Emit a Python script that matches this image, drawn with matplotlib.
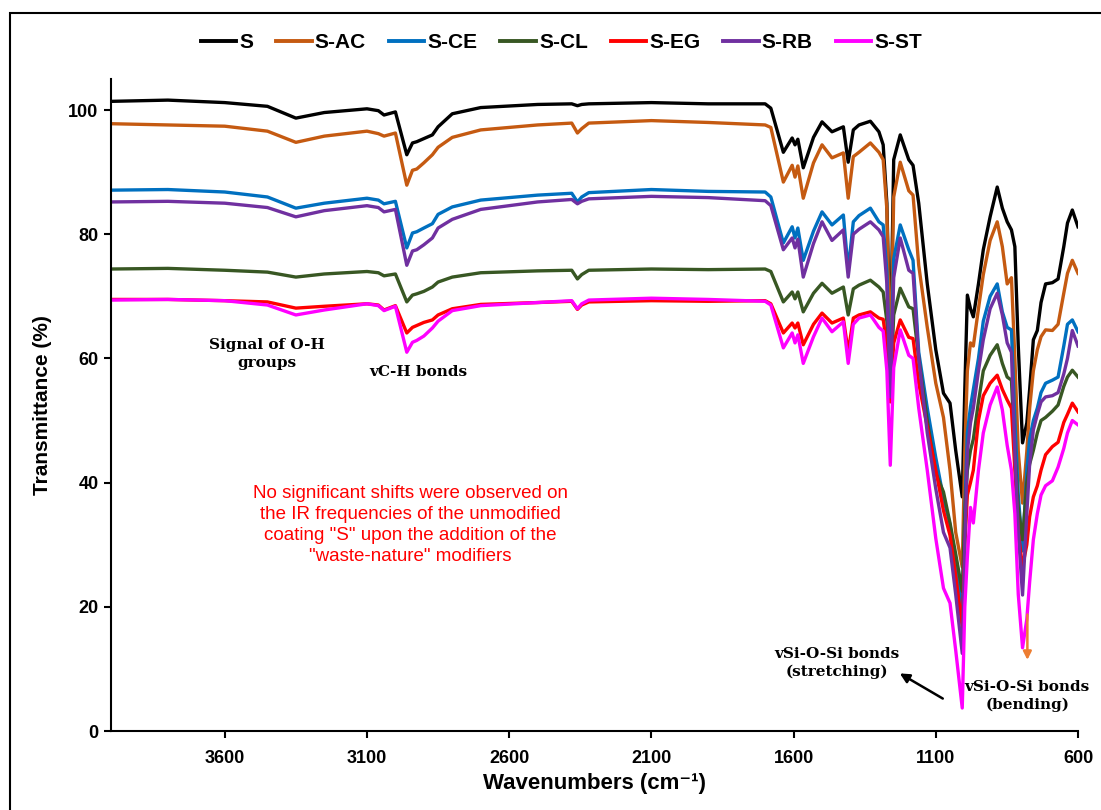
import matplotlib
matplotlib.use("Agg")
import matplotlib.pyplot as plt
from matplotlib import font_manager as fm
from matplotlib.patches import Rectangle

names = {f.name for f in fm.fontManager.ttflist}
NARROW = "Liberation Sans Narrow" if "Liberation Sans Narrow" in names else "Liberation Sans"
SANS = "Liberation Sans"
SERIF = "DejaVu Serif"

wavenumber = [4000, 3800, 3600, 3450, 3350, 3250, 3100, 3060, 3040, 3000,
              2960, 2940, 2925, 2900, 2870, 2850, 2800, 2700, 2500, 2380,
              2360, 2345, 2320, 2100, 1900, 1700, 1680, 1636, 1605, 1595,
              1585, 1566, 1530, 1500, 1465, 1425, 1408, 1390, 1370, 1330,
              1300, 1285, 1272, 1260, 1248, 1225, 1195, 1180, 1160, 1130,
              1100, 1073, 1050, 1030, 1007, 998, 989, 978, 968, 950,
              933, 909, 884, 866, 849, 834, 822, 810, 795, 780,
              770, 757, 743, 730, 714, 690, 670, 650, 637, 620, 600]

t_s = [101.4, 101.6, 101.2, 100.6, 98.7, 99.6, 100.2, 99.9, 99.2, 99.7,
       92.8, 94.7, 94.9, 95.4, 96.0, 97.3, 99.4, 100.4, 100.9, 101.0,
       100.7, 100.9, 101.0, 101.2, 101.0, 101.0, 100.3, 93.2, 95.5, 94.4,
       95.3, 90.7, 95.6, 98.1, 96.5, 97.3, 91.6, 96.8, 97.6, 98.2,
       96.5, 94.4, 85.0, 60.0, 92.0, 96.0, 92.0, 91.1, 85.0, 72.0,
       61.4, 54.4, 52.8, 45.2, 37.7, 55.0, 70.2, 68.0, 66.7, 72.0,
       77.5, 82.8, 87.6, 84.2, 82.0, 80.7, 78.0, 62.0, 46.4, 49.6,
       55.0, 63.0, 64.5, 69.0, 72.0, 72.2, 72.8, 78.0, 81.8, 83.9, 81.2]

t_ac = [97.8, 97.6, 97.4, 96.6, 94.8, 95.8, 96.6, 96.2, 95.8, 96.3,
        87.9, 90.3, 90.5, 91.5, 92.8, 94.0, 95.6, 96.8, 97.6, 97.9,
        96.3, 97.0, 97.9, 98.3, 98.0, 97.6, 97.2, 88.4, 91.1, 89.2,
        91.0, 85.8, 91.5, 94.4, 92.3, 93.1, 85.8, 92.5, 93.2, 94.7,
        93.2, 92.0, 84.0, 57.0, 86.0, 91.6, 87.0, 86.3, 75.0, 65.0,
        56.0, 50.5, 42.0, 32.0, 26.4, 45.0, 58.0, 62.5, 62.0, 68.0,
        73.5, 79.0, 82.0, 78.0, 72.0, 73.0, 60.0, 45.0, 36.7, 45.0,
        52.0, 58.0, 61.4, 63.5, 64.6, 64.5, 65.5, 70.5, 73.7, 75.8, 73.7]

t_ce = [87.1, 87.2, 86.8, 86.0, 84.2, 85.0, 85.8, 85.5, 84.9, 85.3,
        77.8, 80.2, 80.4, 81.0, 81.7, 83.2, 84.4, 85.5, 86.3, 86.6,
        85.2, 86.0, 86.7, 87.2, 86.9, 86.8, 86.0, 78.6, 81.2, 79.4,
        81.0, 75.8, 80.5, 83.6, 81.5, 83.1, 74.2, 82.0, 83.0, 84.2,
        82.0, 81.5, 74.0, 55.0, 76.0, 81.5, 77.5, 75.8, 61.0, 52.0,
        44.0, 37.5, 33.2, 27.0, 19.5, 35.0, 48.0, 52.2, 55.0, 60.0,
        66.0, 70.0, 72.0, 67.5, 65.0, 64.6, 50.0, 38.0, 29.0, 42.0,
        47.0, 50.0, 52.0, 54.5, 56.0, 56.5, 57.0, 62.0, 65.5, 66.2, 64.3]

t_cl = [74.4, 74.5, 74.2, 73.9, 73.1, 73.6, 74.0, 73.8, 73.3, 73.6,
        69.1, 70.2, 70.4, 70.8, 71.5, 72.3, 73.1, 73.8, 74.1, 74.2,
        72.8, 73.5, 74.2, 74.4, 74.3, 74.4, 74.0, 69.1, 70.7, 69.6,
        70.7, 67.5, 70.5, 72.1, 70.5, 71.5, 67.0, 71.2, 71.8, 72.6,
        71.5, 70.7, 66.0, 54.0, 67.0, 71.3, 68.3, 68.0, 60.0, 50.0,
        41.5, 38.5, 33.5, 28.5, 22.5, 35.0, 42.0, 45.2, 47.0, 53.0,
        58.0, 60.5, 62.2, 59.2, 57.0, 56.5, 45.0, 36.0, 30.8, 40.0,
        43.0, 45.2, 48.0, 50.0, 50.5, 51.5, 52.5, 55.5, 57.0, 58.1, 57.0]

t_eg = [69.5, 69.5, 69.3, 69.1, 68.1, 68.4, 68.8, 68.6, 67.8, 68.5,
        64.1, 65.0, 65.3, 65.8, 66.2, 67.0, 68.0, 68.7, 69.0, 69.2,
        67.9, 68.6, 69.1, 69.3, 69.2, 69.3, 68.8, 64.1, 65.7, 64.9,
        65.7, 62.2, 65.5, 67.3, 65.7, 66.5, 61.0, 66.5, 67.0, 67.5,
        66.5, 66.3, 62.0, 53.0, 62.5, 66.2, 63.4, 63.2, 56.0, 49.0,
        42.0, 35.5, 31.5, 25.0, 16.7, 30.0, 38.0, 40.0, 42.0, 50.0,
        54.0, 56.0, 57.3, 55.0, 53.3, 52.0, 42.0, 32.0, 26.4, 30.0,
        34.5, 37.7, 39.5, 42.0, 44.5, 45.8, 46.5, 49.7, 51.0, 52.8, 51.4]

t_rb = [85.2, 85.3, 85.0, 84.3, 82.8, 83.8, 84.6, 84.3, 83.6, 84.0,
        75.0, 77.3, 77.5, 78.3, 79.4, 81.0, 82.4, 84.0, 85.2, 85.6,
        84.9, 85.3, 85.7, 86.1, 85.9, 85.4, 84.6, 77.5, 79.4, 77.8,
        79.2, 73.1, 78.5, 82.0, 79.0, 80.7, 73.1, 80.0, 80.8, 82.0,
        80.7, 79.6, 72.0, 53.8, 73.0, 79.4, 74.2, 73.7, 60.0, 48.0,
        39.0, 32.0, 29.5, 22.0, 12.5, 30.0, 45.0, 49.6, 52.0, 58.0,
        63.0, 68.0, 70.5, 67.0, 62.5, 61.0, 45.0, 32.0, 21.9, 35.0,
        43.0, 48.5, 51.0, 53.0, 53.8, 54.0, 54.5, 57.5, 60.0, 64.5, 62.0]

t_st = [69.4, 69.5, 69.3, 68.6, 67.0, 67.8, 68.8, 68.5, 67.7, 68.4,
        61.0, 62.6, 62.9, 63.6, 64.9, 66.0, 67.7, 68.5, 69.0, 69.3,
        68.0, 68.8, 69.4, 69.7, 69.5, 69.2, 68.6, 61.7, 64.1, 62.5,
        63.8, 59.2, 63.5, 66.5, 64.3, 65.9, 59.2, 65.5, 66.5, 67.0,
        65.0, 64.4, 58.0, 42.8, 58.5, 64.6, 60.5, 60.0, 52.0, 42.0,
        31.0, 23.0, 20.6, 13.0, 3.7, 20.0, 28.0, 36.0, 33.5, 42.0,
        48.0, 52.5, 55.4, 51.7, 46.0, 42.0, 35.0, 22.0, 13.4, 18.0,
        24.0, 30.8, 35.0, 38.0, 39.5, 40.3, 42.5, 45.5, 48.0, 50.0, 49.3]

series_names = ["S", "S-AC", "S-CE", "S-CL", "S-EG", "S-RB", "S-ST"]
series_values = [t_s, t_ac, t_ce, t_cl, t_eg, t_rb, t_st]
series_colors = ["#000000", "#C55A11", "#0070C0", "#385723", "#FF0000", "#7030A0", "#FF00FF"]

x_ticks = [3600, 3100, 2600, 2100, 1600, 1100, 600]
y_ticks = [0, 20, 40, 60, 80, 100]

fig = plt.figure(figsize=(11.01, 8.10), dpi=100)
ax = fig.add_axes([111/1101, 79/810, (1078-111)/1101, (731-79)/810])

for name, vals, col in zip(series_names, series_values, series_colors):
    ax.plot(wavenumber, vals, color=col, lw=2.4, label=name, solid_joinstyle="round")

ax.set_xlim(4000, 600)
ax.set_ylim(0, 105)
ax.set_xticks(x_ticks)
ax.set_yticks(y_ticks)
for s in ["top", "right"]:
    ax.spines[s].set_visible(False)
for s in ["left", "bottom"]:
    ax.spines[s].set_linewidth(1.5)
ax.tick_params(axis="both", direction="out", length=5, width=1.5)
ax.tick_params(axis="x", pad=9)
ax.tick_params(axis="y", pad=4)
for lab in ax.get_xticklabels() + ax.get_yticklabels():
    lab.set_fontfamily(NARROW)
    lab.set_fontweight("bold")
    lab.set_fontsize(13)

ax.set_xlabel("Wavenumbers (cm\u207b\u00b9)", family=[NARROW, "DejaVu Sans"],
              fontweight="bold", fontsize=16, labelpad=4)
ax.set_ylabel("Transmittance (%)", family=SANS, fontweight="bold", fontsize=15, labelpad=12)

leg = fig.legend(loc="center", bbox_to_anchor=(0.51, 1 - 43/810), ncol=7, frameon=False,
                 handlelength=1.7, handletextpad=0.15, columnspacing=1.1,
                 prop={"family": SANS, "weight": "bold", "size": 15})
for line in leg.get_lines():
    line.set_linewidth(2.8)

serif_kw = dict(family=SERIF, fontweight="bold", fontsize=11, ha="center", va="center",
                linespacing=1.3)
ax.text(3451, 60.7, "Signal of O-H\ngroups", **serif_kw)
ax.text(2920, 57.8, "vC-H bonds", **serif_kw)
ax.text(1446, 10.9, "vSi-O-Si bonds\n(stretching)", **serif_kw)
ax.text(778, 5.6, "vSi-O-Si bonds\n(bending)", **serif_kw)

ax.text(2948, 33.2, "No significant shifts were observed on\nthe IR frequencies of the unmodified\n"
        "coating \"S\" upon the addition of the\n\"waste-nature\" modifiers",
        family=SANS, fontsize=13.5, color="#FF0000", ha="center", va="center", linespacing=1.32)

ax.annotate("", xy=(1235, 9.5), xytext=(1067, 5.0),
            arrowprops=dict(arrowstyle="-|>", color="black", lw=1.8, mutation_scale=14))
ax.annotate("", xy=(778, 11.0), xytext=(778, 19.2),
            arrowprops=dict(arrowstyle="-|>", color="#ED7D31", lw=1.8, mutation_scale=12))

fig.patches.append(Rectangle((10/1101, -0.1), 1.2, 1.1 - 13/810, transform=fig.transFigure,
                             fill=False, edgecolor="black", lw=1.5))

fig.savefig("out.png", dpi=100)
